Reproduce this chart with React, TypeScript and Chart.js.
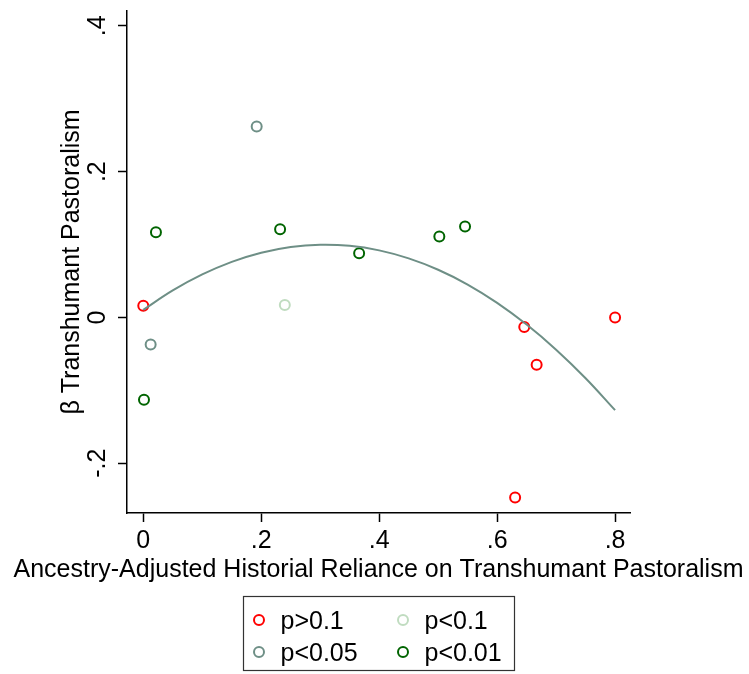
import React, { useEffect, useRef } from "react";
import { Chart, registerables } from "chart.js";

Chart.register(...registerables);

// ---- data ----
const redX = [0.0, 0.646, 0.667, 0.8, 0.6305];
const redY = [0.016, -0.013, -0.065, 0.0, -0.247];

const ltGreenX = [0.24];
const ltGreenY = [0.017];

const grayX = [0.1923, 0.0125];
const grayY = [0.262, -0.037];

const dkGreenX = [0.0215, 0.232, 0.366, 0.502, 0.5456, 0.0012];
const dkGreenY = [0.117, 0.121, 0.088, 0.111, 0.1247, -0.113];

const fitX = [0, 0.05, 0.1, 0.15, 0.2, 0.25, 0.3, 0.35, 0.4, 0.45, 0.5, 0.55, 0.6, 0.65, 0.7, 0.75, 0.8];
const fitY = [0.0104, 0.0371, 0.059, 0.0763, 0.0888, 0.0967, 0.0998, 0.0983, 0.092, 0.081, 0.0654, 0.0451, 0.02, -0.0098, -0.0442, -0.0834, -0.1272];

const seriesLabels = ["p>0.1", "p<0.1", "p<0.05", "p<0.01"];
const seriesColors = ["#ff0000", "#c0dcc0", "#6e8f86", "#006400"];
const fitColor = "#6e8f86";

const xTicks = [0, 0.2, 0.4, 0.6, 0.8];
const xTickLabels = ["0", ".2", ".4", ".6", ".8"];
const yTicks = [-0.2, 0, 0.2, 0.4];
const yTickLabels = ["-.2", "0", ".2", ".4"];

const xMin = -0.0276;
const xMax = 0.8253;
const yMin = -0.2683;
const yMax = 0.4204;

const xTitle = "Ancestry-Adjusted Historial Reliance on Transhumant Pastoralism";
const yTitle = "β Transhumant Pastoralism";

const FONT = "'Liberation Sans', Arial, Helvetica, sans-serif";
const FS = 25;

const toPts = (xs: number[], ys: number[]) => xs.map((x, i) => ({ x, y: ys[i] }));

// x-axis title (wider than the plot, so drawn here) and boxed legend
const legendPlugin = {
  id: "boxLegend",
  afterDraw(chart: any) {
    const { ctx, chartArea } = chart;
    const cx = (chartArea.left + chartArea.right) / 2;
    ctx.save();
    ctx.font = `${FS}px ${FONT}`;
    ctx.fillStyle = "#000";
    ctx.textAlign = "center";
    ctx.textBaseline = "alphabetic";
    ctx.fillText(xTitle, cx, 577);

    const w = 271;
    const h = 74;
    const left = Math.round(cx - w / 2) + 0.5;
    const top = 596.5;
    ctx.strokeStyle = "#333333";
    ctx.lineWidth = 1.2;
    ctx.strokeRect(left, top, w, h);
    ctx.textBaseline = "middle";
    ctx.textAlign = "left";
    const scatterSets = chart.data.datasets.filter((d: any) => d.isSeries);
    scatterSets.forEach((d: any, i: number) => {
      const col = i % 2;
      const row = Math.floor(i / 2);
      const mx = left + 15.5 + col * 144;
      const my = top + 23.5 + row * 32;
      ctx.beginPath();
      ctx.arc(mx, my, 5, 0, Math.PI * 2);
      ctx.strokeStyle = d.borderColor;
      ctx.lineWidth = 2;
      ctx.stroke();
      ctx.fillStyle = "#000";
      ctx.fillText(d.label, mx + 21.5, my + 2);
    });
    ctx.restore();
  },
};

export default function App() {
  const ref = useRef<HTMLCanvasElement | null>(null);

  useEffect(() => {
    if (!ref.current) return;
    const seriesX = [redX, ltGreenX, grayX, dkGreenX];
    const seriesY = [redY, ltGreenY, grayY, dkGreenY];
    const scatterSets = seriesLabels.map((label, i) => ({
      type: "scatter" as const,
      label,
      isSeries: true,
      data: toPts(seriesX[i], seriesY[i]),
      borderColor: seriesColors[i],
      backgroundColor: "rgba(0,0,0,0)",
      pointRadius: 5,
      pointBorderWidth: 2,
      pointHoverRadius: 5,
      order: 2,
    }));

    const chart = new Chart(ref.current, {
      type: "scatter",
      data: {
        datasets: [
          {
            type: "line" as const,
            label: "fit",
            data: toPts(fitX, fitY),
            borderColor: fitColor,
            borderWidth: 2,
            pointRadius: 0,
            tension: 0.4,
            fill: false,
            order: 1,
          } as any,
          ...(scatterSets as any[]),
        ],
      },
      options: {
        animation: false,
        responsive: false,
        maintainAspectRatio: false,
        events: [],
        layout: { padding: { left: 0, top: 11, right: 119, bottom: 0 }, autoPadding: false },
        plugins: { legend: { display: false }, tooltip: { enabled: false } },
        scales: {
          x: {
            type: "linear",
            min: xMin,
            max: xMax,
            afterBuildTicks: (s: any) => {
              s.ticks = xTicks.map((v) => ({ value: v }));
            },
            afterFit: (s: any) => {
              s.height = 161;
              s.paddingLeft = 0;
              s.paddingRight = 0;
            },
            ticks: {
              autoSkip: false,
              maxRotation: 0,
              minRotation: 0,
              padding: 4,
              color: "#000",
              font: { family: FONT, size: FS },
              callback: (v: any) => xTickLabels[xTicks.indexOf(v)],
            },
            grid: {
              display: true,
              drawOnChartArea: false,
              drawTicks: true,
              tickLength: 9,
              color: "#000",
              tickWidth: 1.5,
            },
            border: { display: true, color: "#000", width: 1.5 },
            title: { display: false },
          },
          y: {
            type: "linear",
            min: yMin,
            max: yMax,
            afterBuildTicks: (s: any) => {
              s.ticks = yTicks.map((v) => ({ value: v }));
            },
            afterFit: (s: any) => {
              s.width = 127;
              s.paddingTop = 0;
              s.paddingBottom = 0;
            },
            ticks: {
              autoSkip: false,
              minRotation: 90,
              maxRotation: 90,
              crossAlign: "center",
              padding: 5,
              color: "#000",
              font: { family: FONT, size: FS },
              callback: (v: any) => yTickLabels[yTicks.indexOf(v)],
            },
            grid: {
              display: true,
              drawOnChartArea: false,
              drawTicks: true,
              tickLength: 9,
              color: "#000",
              tickWidth: 1.5,
            },
            border: { display: true, color: "#000", width: 1.5 },
            title: {
              display: true,
              text: yTitle,
              color: "#000",
              font: { family: FONT, size: FS },
              padding: { top: 57, bottom: 0 },
            },
          },
        },
      } as any,
      plugins: [legendPlugin],
    });
    return () => chart.destroy();
  }, []);

  return (
    <div style={{ position: "absolute", left: 0, top: 0, width: 749, height: 674, background: "#fff" }}>
      <canvas ref={ref} width={749} height={674} style={{ width: 749, height: 674, display: "block" }} />
    </div>
  );
}
